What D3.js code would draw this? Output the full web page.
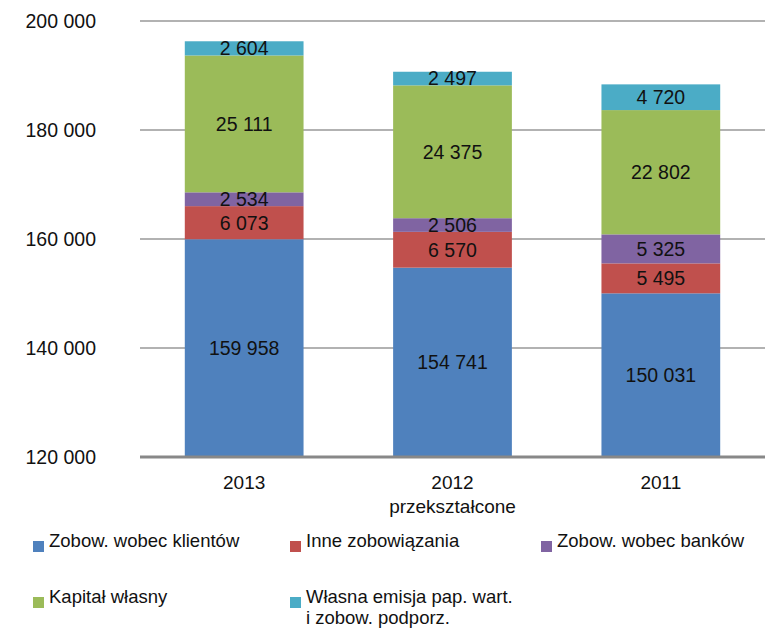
<!DOCTYPE html>
<html><head><meta charset="utf-8">
<script src="https://cdn.jsdelivr.net/npm/d3@7"></script>
<style>body{margin:0;background:#fff}</style>
</head><body>
<svg id="chart" width="772" height="640"></svg>
<script>
const categories = ["2013", "2012", "2011"];
const categorySub = ["", "przekształcone", ""];
const seriesNames = ["Zobow. wobec klientów", "Inne zobowiązania", "Zobow. wobec banków", "Kapitał własny", "Własna emisja pap. wart.|i zobow. podporz."];
const seriesColors = ["#4F81BD", "#C0504D", "#8064A2", "#9BBB59", "#4BACC6"];
const klienci = [159958, 154741, 150031];
const inne = [6073, 6570, 5495];
const banki = [2534, 2506, 5325];
const kapital = [25111, 24375, 22802];
const emisja = [2604, 2497, 4720];
const yTicks = [120000, 140000, 160000, 180000, 200000];

const series = [klienci, inne, banki, kapital, emisja];
const svg = d3.select("#chart");
const fontNum = "'Liberation Sans', Arial, sans-serif";

const x = d3.scaleBand().domain(categories).range([140, 765]).paddingInner(0.43).paddingOuter(0.215);
const y = d3.scaleLinear().domain([120000, 200000]).range([457, 21]);
const fmt = v => d3.format(",")(v).replace(/,/g, " ");

// gridlines
svg.append("g").selectAll("line").data(yTicks.filter(t => t > 120000)).join("line")
  .attr("x1", 140).attr("x2", 765).attr("y1", d => y(d)).attr("y2", d => y(d))
  .attr("stroke", "#999").attr("stroke-width", 1.5);

// y labels
svg.append("g").selectAll("text").data(yTicks).join("text")
  .attr("x", 96).attr("y", d => y(d)).attr("dy", "0.35em")
  .attr("text-anchor", "end").attr("font-family", fontNum).attr("font-size", 19.5)
  .attr("fill", "#111").text(d => fmt(d));

// stacks
const stackData = categories.map((c, i) => {
  let base = 0; const segs = [];
  series.forEach((s, k) => { segs.push({k, c, v: s[i], y0: base, y1: base + s[i]}); base += s[i]; });
  return segs;
}).flat();

svg.append("g").selectAll("rect").data(stackData).join("rect")
  .attr("x", d => x(d.c)).attr("width", x.bandwidth())
  .attr("y", d => y(Math.max(d.y1, 120000)))
  .attr("height", d => Math.max(0, y(Math.max(d.y0, 120000)) - y(Math.max(d.y1, 120000))))
  .attr("fill", d => seriesColors[d.k]);

svg.append("g").selectAll("text").data(stackData).join("text")
  .attr("x", d => x(d.c) + x.bandwidth() / 2)
  .attr("y", d => {
    const lo = Math.max(d.y0, 120000);
    return d.k === 0 ? y((lo + d.y1) / 2) : y((d.y0 + d.y1) / 2);
  })
  .attr("dy", "0.35em").attr("text-anchor", "middle")
  .attr("font-family", fontNum).attr("font-size", 19.5).attr("fill", "#111")
  .text(d => fmt(d.v));

// baseline
svg.append("line").attr("x1", 140).attr("x2", 765).attr("y1", y(120000)).attr("y2", y(120000))
  .attr("stroke", "#888").attr("stroke-width", 3);

// x labels
const xl = svg.append("g").selectAll("text").data(categories).join("text")
  .attr("x", d => x(d) + x.bandwidth() / 2).attr("y", 489)
  .attr("text-anchor", "middle").attr("font-family", fontNum).attr("font-size", 19).attr("fill", "#111");
xl.append("tspan").text(d => d);
xl.append("tspan").attr("x", d => x(d) + x.bandwidth() / 2).attr("dy", 24)
  .text((d, i) => categorySub[i]);

// legend
const legPos = [[33, 547], [290, 547], [541, 547], [33, 603], [290, 603]];
const leg = svg.append("g").selectAll("g").data(seriesNames).join("g")
  .attr("transform", (d, i) => `translate(${legPos[i][0]},${legPos[i][1]})`);
leg.append("rect").attr("x", 0).attr("y", -6).attr("width", 11).attr("height", 11)
  .attr("fill", (d, i) => seriesColors[i]);
const lt = leg.append("text").attr("x", 16).attr("y", 0).attr("dy", "0.35em")
  .attr("font-family", fontNum).attr("font-size", 18.5).attr("fill", "#111");
lt.selectAll("tspan").data(d => d.split("|")).join("tspan")
  .attr("x", 16).attr("dy", (d, j) => j === 0 ? 0 : 21).text(d => d);
</script>
</body></html>
